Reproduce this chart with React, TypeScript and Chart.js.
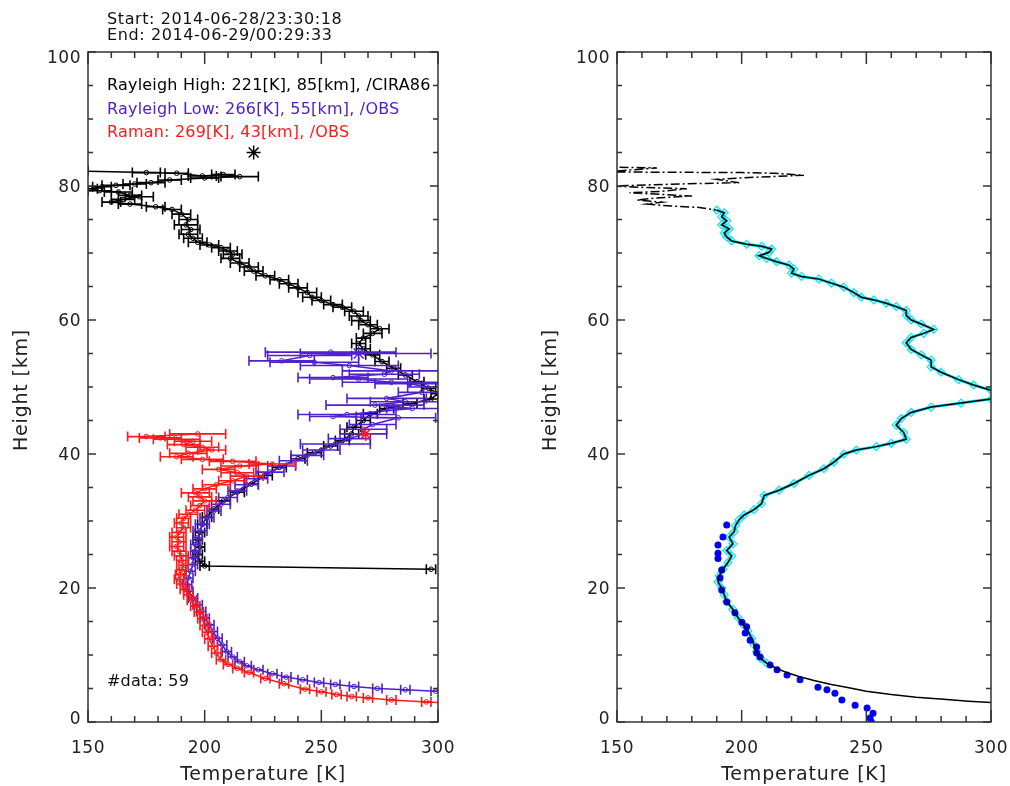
import React, { useEffect, useRef } from "react";
import { Chart, registerables } from "chart.js";

Chart.register(...registerables);

const FONT = '"DejaVu Sans", "Liberation Sans", sans-serif';

// ---------- axis ticks ----------
const X_TICKS = [150, 200, 250, 300];
const Y_TICKS = [0, 20, 40, 60, 80, 100];
const X_MIN = 150, X_MAX = 300, Y_MIN = 0, Y_MAX = 100;

// ---------- header / legend texts ----------
const START_TEXT = "Start: 2014-06-28/23:30:18";
const END_TEXT = "End: 2014-06-29/00:29:33";
const LABEL_HIGH = "Rayleigh High: 221[K], 85[km], /CIRA86";
const LABEL_LOW = "Rayleigh Low: 266[K], 55[km], /OBS";
const LABEL_RAMAN = "Raman: 269[K], 43[km], /OBS";
const NDATA_TEXT = "#data: 59";

// reference (normalisation) points [T, z]
const refHigh: [number, number] = [221, 85];
const refLow: [number, number] = [266, 55];
const refRaman: [number, number] = [269, 43];

// ---------- left panel: [T (K), z (km), error (K)] ----------
const rayleighHigh: [number, number, number][] = [
  [140, 82.3, 10], [175, 82.0, 6], [188, 81.9, 5], [199, 81.5, 6], [208, 81.7, 5],
  [215, 81.4, 8], [200, 81.2, 6], [185, 80.9, 5], [177, 80.5, 6], [170, 80.3, 5],
  [162, 80.1, 6], [156, 79.9, 4], [151, 79.6, 3], [155, 79.3, 5], [163, 79.1, 6],
  [168, 78.6, 5], [172, 78.4, 6], [165, 78.0, 5], [160, 77.6, 4], [168, 77.3, 5],
  [179, 76.9, 4], [186, 76.5, 4], [190, 75.8, 4], [193, 75.0, 4], [192, 74.2, 5],
  [194, 73.5, 4], [193, 72.8, 4], [195, 72.2, 4], [197, 71.6, 4], [202, 71.2, 4],
  [207, 70.8, 4], [210, 70.3, 4], [212, 69.8, 4], [211, 69.2, 4], [215, 68.5, 4],
  [219, 67.9, 4], [221, 67.3, 4], [226, 66.6, 4], [232, 66.0, 4], [236, 65.4, 4],
  [240, 64.8, 4], [244, 64.1, 4], [246, 63.4, 4], [250, 62.9, 4], [255, 62.3, 4],
  [259, 61.9, 4], [264, 61.3, 4], [266, 60.6, 4], [267, 59.9, 4], [270, 59.3, 4],
  [275, 58.7, 4], [272, 58.0, 4], [268, 57.3, 3], [266, 56.5, 3], [268, 55.7, 3],
  [272, 54.8, 3], [276, 53.8, 3], [281, 52.8, 3], [286, 51.8, 3], [291, 50.8, 3],
  [296, 49.8, 3], [300, 49.0, 3], [297, 48.2, 3], [288, 47.5, 3], [278, 46.8, 3],
  [271, 46.0, 3], [268, 45.0, 3], [264, 44.0, 3], [263, 43.0, 3], [259, 42.0, 3],
  [254, 41.2, 3], [247, 40.2, 3], [240, 39.3, 3], [232, 38.0, 3], [226, 36.8, 3],
  [220, 35.5, 3], [214, 34.3, 3], [208, 33.0, 3], [204, 31.8, 2], [201, 30.6, 2],
  [199, 29.5, 2], [198, 28.3, 2], [197, 27.2, 2], [198, 26.1, 2], [197, 25.0, 2],
  [198, 24.0, 2], [200, 23.3, 2], [297, 22.8, 2],
];

const rayleighLow: [number, number, number][] = [
  [254, 55.2, 28], [269, 55.0, 28], [245, 54.7, 18], [233, 53.9, 14], [247, 53.7, 19],
  [262, 53.2, 21], [280, 52.4, 21], [277, 51.9, 15], [255, 51.4, 15], [266, 51.2, 21],
  [280, 50.7, 21], [288, 50.5, 15], [295, 50.0, 8], [293, 49.2, 10], [278, 48.3, 17],
  [286, 47.8, 15], [273, 47.3, 21], [289, 46.8, 11], [261, 45.9, 21], [255, 45.6, 10],
  [283, 45.4, 16], [272, 44.4, 10], [268, 43.7, 10], [268, 43.0, 10], [262, 42.3, 9],
  [256, 41.5, 15], [250, 40.6, 8], [244, 39.8, 7], [238, 39.0, 6], [233, 38.2, 6],
  [228, 37.3, 6], [222, 36.3, 5], [218, 35.4, 5], [214, 34.5, 4], [210, 33.5, 4],
  [207, 32.5, 4], [204, 31.5, 3], [201, 30.5, 3], [199, 29.5, 3], [198, 28.5, 3],
  [197, 27.5, 2], [196, 26.5, 2], [196, 25.5, 2], [195, 24.5, 2], [195, 23.5, 2],
  [194, 22.5, 2], [193, 21.5, 2], [192.5, 20.5, 2], [193, 19.5, 2], [195, 18.5, 2],
  [197, 17.5, 2], [198.5, 16.5, 2], [200, 15.5, 2], [202, 14.5, 2], [203.5, 13.5, 2],
  [205.5, 12.5, 2], [207.5, 11.5, 2], [209.5, 10.5, 2], [212, 9.7, 2], [215, 9.0, 2],
  [218, 8.4, 2], [223, 7.8, 2], [229, 7.2, 2], [235, 6.7, 2], [242, 6.3, 2],
  [249, 5.9, 2], [256, 5.6, 2], [264, 5.3, 2], [274, 5.0, 2], [286, 4.8, 2],
  [299, 4.6, 2], [310, 4.4, 2],
];

const raman: [number, number, number][] = [
  [197, 43.0, 12], [175, 42.6, 8], [181, 42.4, 9], [188, 42.2, 10], [195, 41.9, 8],
  [191, 41.4, 7], [199, 41.0, 7], [203, 40.6, 6], [193, 40.1, 8], [188, 39.6, 7],
  [199, 39.2, 9], [212, 38.9, 10], [229, 38.5, 10], [215, 38.2, 8], [206, 37.7, 7],
  [214, 37.2, 7], [218, 36.7, 7], [212, 36.0, 6], [205, 35.4, 6], [200, 34.8, 5],
  [196, 34.2, 6], [198, 33.6, 5], [200, 33.0, 5], [198, 32.3, 4], [196, 31.6, 4],
  [193, 31.0, 4], [191, 30.4, 3], [190, 29.7, 3], [191, 29.0, 3], [189, 28.3, 3],
  [188, 27.6, 3], [189, 26.9, 3], [188, 26.2, 3], [189, 25.5, 3], [190, 24.8, 3],
  [190, 24.1, 2], [191, 23.4, 2], [190, 22.7, 2], [189.5, 22.0, 2], [189, 21.3, 2],
  [190, 20.6, 2], [191.5, 19.8, 2], [193, 19.0, 2], [194.5, 18.2, 2], [196, 17.3, 2],
  [197.5, 16.4, 2], [199, 15.4, 2], [200, 14.4, 2], [201, 13.4, 2], [202, 12.4, 2],
  [203.5, 11.3, 2], [205, 10.3, 2], [207, 9.3, 2], [210, 8.6, 2], [214, 8.0, 2],
  [219, 7.4, 2], [226, 6.5, 2], [234, 5.7, 2], [243, 4.9, 2], [250, 4.5, 2],
  [256.5, 4.1, 2], [263, 3.8, 2], [270, 3.6, 2], [280, 3.3, 2], [295, 3.0, 2],
  [305, 2.8, 2],
];

// ---------- right panel ----------
const combined: [number, number][] = [
  [151, 82.8], [166, 82.7], [145, 82.1], [200, 82.0], [213, 81.9], [225, 81.6],
  [205, 81.3], [190, 81.0], [199, 80.5], [175, 80.3], [148, 80.0], [160, 79.8],
  [178, 79.6], [168, 79.2], [155, 79.0], [170, 78.7], [180, 78.5], [165, 78.2],
  [158, 77.9], [168, 77.6], [162, 77.3], [172, 77.0], [183, 76.8], [190, 76.4],
  [193, 76.0], [192, 75.4], [194, 74.8], [192, 74.2], [195, 73.6], [193, 73.0],
  [194, 72.4], [196, 71.8], [202, 71.3], [208, 71.0], [212, 70.6], [211, 70.1],
  [207, 69.6], [210, 69.2], [214, 68.7], [219, 68.2], [221, 67.6], [220, 67.0],
  [224, 66.5], [231, 66.1], [236, 65.5], [241, 64.9], [245, 64.1], [248, 63.4],
  [253, 63.0], [258, 62.5], [262, 62.0], [266, 61.4], [266, 60.7], [268, 60.0],
  [272, 59.4], [277, 58.6], [273, 58.0], [268, 57.4], [266, 56.6], [268, 55.6],
  [272, 54.8], [276, 54.0], [276, 53.0], [280, 52.2], [287, 51.1], [293, 50.3],
  [300, 49.5], [304, 48.9], [300, 48.2], [288, 47.6], [276, 47.0], [268, 46.2],
  [264, 45.3], [262, 44.3], [265, 43.2], [266, 42.2], [260, 41.6], [254, 41.1],
  [246, 40.6], [241, 40.0], [237, 38.8], [233, 37.8], [227, 36.8], [221, 35.6],
  [215, 34.6], [209, 33.8], [208, 32.6], [205, 31.7], [201, 30.9], [199, 30.2],
  [197.5, 29.3], [197, 28.4], [195, 27.6], [196.5, 26.6], [194, 25.6], [196, 24.8],
  [194.5, 23.8], [192.5, 22.8], [191, 21.8], [190.5, 20.9], [192, 20.0], [193, 19.0],
  [194, 18.0], [196.5, 16.8], [198.5, 15.6], [200.5, 14.6], [202.5, 13.6], [204, 12.5],
  [205, 11.5], [206, 10.5], [207.5, 9.5], [210, 8.8], [214, 8.0], [218, 7.4],
  [223, 6.8], [229, 6.2], [236, 5.6], [243, 5.1], [250, 4.6], [260, 4.1],
  [270, 3.7], [281, 3.4], [291, 3.1], [300, 2.9],
];

const sonde: [number, number][] = [
  [194, 29.4], [192.5, 27.6], [190.5, 26.4], [190.5, 25.2], [190.5, 24.4], [192, 22.7],
  [191.3, 21.5], [192, 19.7], [194, 17.9], [197.3, 16.3], [200.1, 14.9], [202, 14.2],
  [201.4, 13.3], [203.4, 12.2], [206, 11.2], [206, 10.3], [207.4, 9.7], [211.4, 8.5],
  [214.2, 7.8], [218.2, 7.0], [223.4, 6.3], [230.6, 5.2], [234.2, 4.8], [237.4, 4.3],
  [240.2, 3.3], [245.5, 2.5], [250.3, 2.1], [252.7, 1.3], [251.5, 0.6], [252, 0.0],
];

const BLACK = "#000000";
const PURPLE = "#5020cc";
const RED = "#ff1a1a";
const CYAN = "#10e0f0";
const BLUE = "#0000ff";

const errorBarPlugin = {
  id: "errbars",
  afterDatasetDraw(chart: any, args: any) {
    const ds = chart.data.datasets[args.index];
    if (!ds.errors) return;
    const { ctx, chartArea: a } = chart;
    const xs = chart.scales.x, ys = chart.scales.y;
    ctx.save();
    ctx.beginPath();
    ctx.rect(a.left, a.top, a.right - a.left, a.bottom - a.top);
    ctx.clip();
    ctx.strokeStyle = ds.borderColor;
    ctx.lineWidth = 1.6;
    ds.data.forEach((p: any, i: number) => {
      const e = ds.errors[i];
      const y = ys.getPixelForValue(p.y);
      const x1 = xs.getPixelForValue(p.x - e);
      const x2 = xs.getPixelForValue(p.x + e);
      ctx.beginPath();
      ctx.moveTo(x1, y); ctx.lineTo(x2, y);
      ctx.moveTo(x1, y - 5); ctx.lineTo(x1, y + 5);
      ctx.moveTo(x2, y - 5); ctx.lineTo(x2, y + 5);
      ctx.stroke();
    });
    ctx.restore();
  },
};

const framePlugin = {
  id: "frame",
  afterDraw(chart: any, _args: any, opts: any) {
    const { ctx, chartArea: a } = chart;
    const xs = chart.scales.x, ys = chart.scales.y;
    ctx.save();
    ctx.strokeStyle = "#333";
    ctx.lineWidth = 1.5;
    ctx.strokeRect(a.left, a.top, a.right - a.left, a.bottom - a.top);
    ctx.beginPath();
    for (let v = X_MIN; v <= X_MAX; v += 10) {
      const px = xs.getPixelForValue(v);
      const len = v % 50 === 0 ? 12 : 6;
      ctx.moveTo(px, a.bottom); ctx.lineTo(px, a.bottom - len);
      ctx.moveTo(px, a.top); ctx.lineTo(px, a.top + len);
    }
    for (let v = Y_MIN; v <= Y_MAX; v += 5) {
      const py = ys.getPixelForValue(v);
      const len = v % 20 === 0 ? 8 : 5;
      ctx.moveTo(a.left, py); ctx.lineTo(a.left + len, py);
      ctx.moveTo(a.right, py); ctx.lineTo(a.right - len, py);
    }
    ctx.stroke();

    ctx.fillStyle = "#222";
    ctx.font = `17px ${FONT}`;
    (ctx as any).letterSpacing = "0.5px";
    ctx.textAlign = "center";
    ctx.textBaseline = "middle";
    X_TICKS.forEach((v) => ctx.fillText(String(v), xs.getPixelForValue(v), a.bottom + 27));
    ctx.textAlign = "right";
    Y_TICKS.forEach((v) => {
      const py = Math.min(Math.max(ys.getPixelForValue(v) + 2, a.top + 7), a.bottom - 2);
      ctx.fillText(String(v), a.left - 7, py);
    });
    ctx.font = `19px ${FONT}`;
    (ctx as any).letterSpacing = "0.8px";
    ctx.textAlign = "center";
    ctx.fillText("Temperature [K]", (a.left + a.right) / 2, a.bottom + 53);
    ctx.save();
    ctx.translate(a.left - 66, (a.top + a.bottom) / 2 + 3);
    ctx.rotate(-Math.PI / 2);
    ctx.fillText("Height [km]", 0, 0);
    ctx.restore();

    (opts.texts || []).forEach((t: any) => {
      ctx.font = `16px ${FONT}`;
      (ctx as any).letterSpacing = t.spacing || "0.2px";
      ctx.textAlign = "left";
      ctx.fillStyle = t.color;
      ctx.fillText(t.text, t.x, t.y);
    });
    ctx.restore();
  },
};

const scalesOpt = {
  x: { type: "linear", min: X_MIN, max: X_MAX, display: false },
  y: { type: "linear", min: Y_MIN, max: Y_MAX, display: false },
};

function errSeries(rows: [number, number, number][], color: string, order: number) {
  return {
    data: rows.map((r) => ({ x: r[0], y: r[1] })),
    errors: rows.map((r) => r[2]),
    showLine: true,
    borderColor: color,
    borderWidth: 1.5,
    pointStyle: "circle",
    pointRadius: 2.3,
    pointBorderWidth: 1,
    pointBorderColor: color,
    pointBackgroundColor: "rgba(0,0,0,0)",
    backgroundColor: "rgba(0,0,0,0)",
    order,
  };
}

function starSeries(p: [number, number], color: string, order: number) {
  return {
    data: [{ x: p[0], y: p[1] }],
    showLine: false,
    pointStyle: "star",
    pointRadius: 7,
    pointBorderWidth: 1.5,
    pointBorderColor: color,
    borderColor: color,
    order,
  };
}

export default function App() {
  const leftRef = useRef<HTMLCanvasElement>(null);
  const rightRef = useRef<HTMLCanvasElement>(null);

  useEffect(() => {
    const left = new Chart(leftRef.current as HTMLCanvasElement, {
      type: "scatter",
      data: {
        datasets: [
          errSeries(raman, RED, 1),
          starSeries(refRaman, RED, 0),
          errSeries(rayleighLow, PURPLE, 3),
          starSeries(refLow, PURPLE, 2),
          errSeries(rayleighHigh, BLACK, 5),
          starSeries(refHigh, BLACK, 4),
        ] as any,
      },
      options: {
        responsive: false,
        animation: false,
        events: [],
        layout: { padding: { left: 88, right: 22, top: 52, bottom: 64 } },
        scales: scalesOpt as any,
        plugins: {
          legend: { display: false },
          tooltip: { enabled: false },
          frame: {
            texts: [
              { text: START_TEXT, x: 107, y: 20, color: "#111", spacing: "0.6px" },
              { text: END_TEXT, x: 107, y: 36, color: "#111", spacing: "0.6px" },
              { text: LABEL_HIGH, x: 107, y: 86, color: BLACK },
              { text: LABEL_LOW, x: 107, y: 110, color: PURPLE },
              { text: LABEL_RAMAN, x: 107, y: 133, color: RED },
              { text: NDATA_TEXT, x: 107, y: 682, color: "#111" },
            ],
          },
        } as any,
      },
      plugins: [errorBarPlugin, framePlugin],
    });

    const right = new Chart(rightRef.current as HTMLCanvasElement, {
      type: "scatter",
      data: {
        datasets: [
          {
            data: combined.map((r) => ({ x: r[0], y: r[1] })),
            showLine: true,
            borderColor: BLACK,
            borderWidth: 1.5,
            pointRadius: 0,
            segment: {
              borderDash: (c: any) => (c.p0.parsed.y > 76.5 ? [9, 3, 2, 3] : undefined),
            },
            order: 0,
          },
          {
            data: sonde.map((r) => ({ x: r[0], y: r[1] })),
            showLine: false,
            pointStyle: "circle",
            pointRadius: 3.5,
            pointBackgroundColor: BLUE,
            pointBorderColor: BLUE,
            pointBorderWidth: 0,
            order: 1,
          },
          {
            data: combined
              .filter((r) => r[1] <= 76.5 && r[1] >= 8.5)
              .map((r) => ({ x: r[0], y: r[1] })),
            showLine: true,
            borderColor: CYAN,
            borderWidth: 3,
            pointStyle: "rectRot",
            pointRadius: 4,
            pointBorderWidth: 1.2,
            pointBorderColor: CYAN,
            pointBackgroundColor: "rgba(0,0,0,0)",
            order: 2,
          },
        ] as any,
      },
      options: {
        responsive: false,
        animation: false,
        events: [],
        layout: { padding: { left: 87, right: 19, top: 52, bottom: 64 } },
        scales: scalesOpt as any,
        plugins: {
          legend: { display: false },
          tooltip: { enabled: false },
          frame: { texts: [] },
        } as any,
      },
      plugins: [framePlugin],
    });

    return () => {
      left.destroy();
      right.destroy();
    };
  }, []);

  return (
    <div style={{ position: "absolute", left: 0, top: 0, width: 1010, height: 786, background: "#fff" }}>
      <canvas ref={leftRef} width={460} height={786} style={{ position: "absolute", left: 0, top: 0 }} />
      <canvas ref={rightRef} width={480} height={786} style={{ position: "absolute", left: 530, top: 0 }} />
    </div>
  );
}
